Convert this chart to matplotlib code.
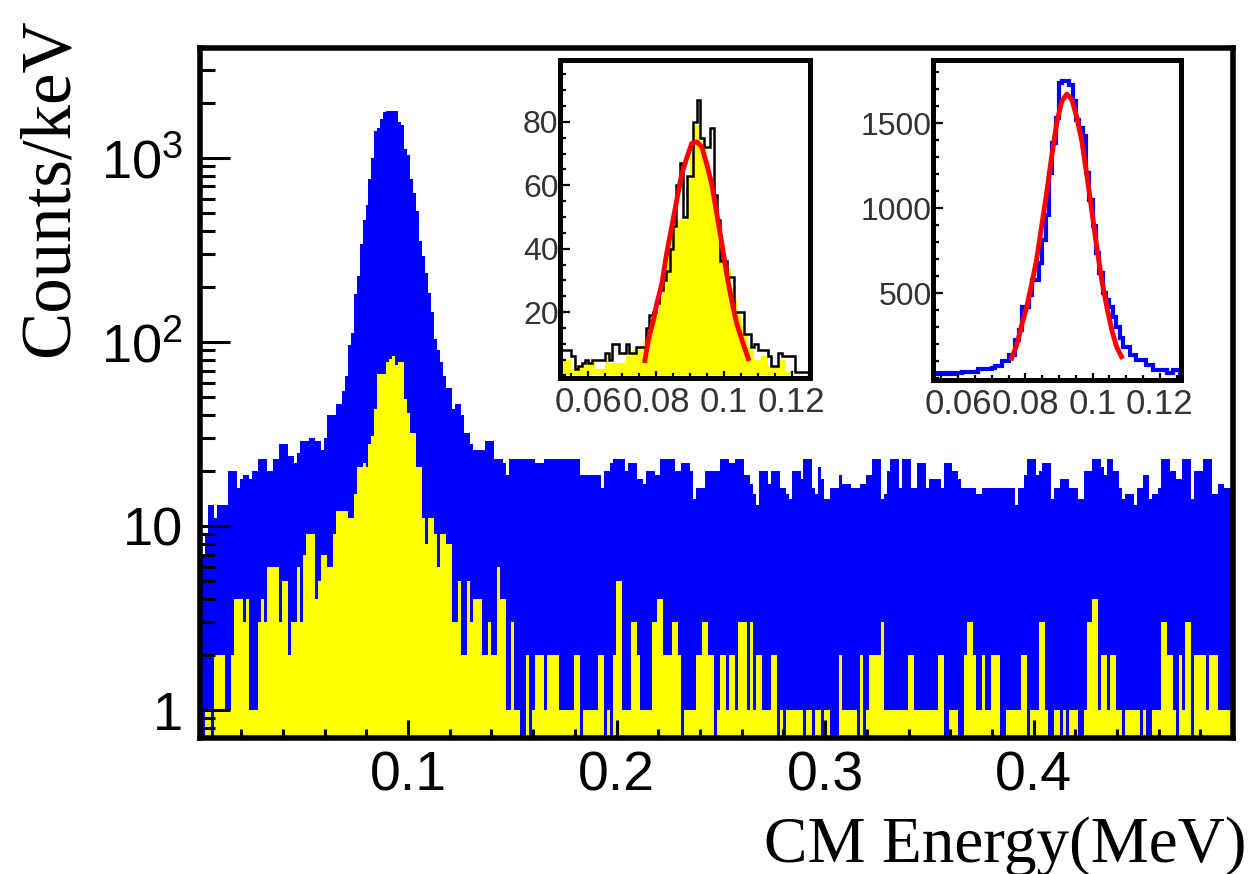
import numpy as np
import matplotlib
matplotlib.use("Agg")
from matplotlib import pyplot as plt
from matplotlib.ticker import FixedLocator, FixedFormatter, MultipleLocator, LogLocator, NullFormatter

plt.rcParams['font.family'] = ['Liberation Sans', 'DejaVu Sans']
plt.rcParams['mathtext.fontset'] = 'custom'
plt.rcParams['mathtext.rm'] = 'Liberation Sans'

# main histogram, counts per bin (346 bins, 0.001-0.4954 MeV)
main_blue = [
    7, 9, 13, 13, 11, 13, 13, 13, 13, 20,
    20, 20, 16, 18, 19, 19, 18, 20, 20, 23,
    23, 23, 20, 20, 23, 23, 28, 28, 28, 24,
    24, 22, 25, 29, 29, 29, 30, 30, 29, 29,
    26, 30, 40, 40, 40, 46, 46, 54, 65, 96,
    112, 182, 229, 341, 460, 556, 769, 996, 1402, 1456,
    1628, 1780, 1800, 1800, 1810, 1790, 1570, 1510, 1114, 1038,
    769, 648, 515, 355, 294, 237, 184, 146, 104, 90,
    78, 65, 56, 56, 43, 46, 46, 40, 32, 32,
    28, 26, 26, 26, 26, 29, 29, 29, 23, 23,
    23, 22, 19, 23, 23, 23, 23, 23, 23, 23,
    23, 23, 22, 22, 22, 23, 23, 23, 23, 23,
    23, 23, 23, 23, 23, 23, 23, 19, 19, 19,
    19, 19, 19, 19, 16, 20, 20, 22, 23, 23,
    23, 23, 20, 22, 22, 22, 18, 18, 17, 20,
    20, 20, 19, 19, 23, 23, 23, 23, 23, 20,
    20, 22, 22, 22, 20, 14, 16, 16, 16, 20,
    20, 20, 20, 20, 23, 23, 23, 22, 22, 23,
    23, 23, 19, 19, 17, 15, 13, 20, 20, 20,
    17, 20, 20, 20, 16, 16, 15, 14, 20, 20,
    20, 18, 23, 23, 23, 16, 15, 21, 18, 14,
    14, 16, 16, 16, 19, 17, 17, 17, 16, 16,
    16, 17, 17, 19, 19, 23, 23, 23, 14, 15,
    20, 23, 23, 23, 16, 23, 23, 23, 16, 16,
    22, 22, 22, 16, 18, 18, 18, 18, 16, 22,
    22, 22, 20, 20, 18, 16, 16, 16, 16, 16,
    15, 15, 16, 16, 16, 16, 16, 16, 16, 16,
    16, 16, 16, 13, 16, 16, 19, 23, 23, 23,
    19, 20, 22, 22, 22, 14, 16, 16, 18, 18,
    18, 16, 16, 16, 14, 14, 20, 20, 20, 23,
    23, 23, 21, 19, 23, 23, 20, 20, 16, 14,
    15, 15, 15, 13, 16, 16, 19, 19, 14, 15,
    15, 16, 23, 23, 23, 20, 20, 18, 18, 23,
    23, 23, 14, 20, 20, 20, 23, 23, 23, 15,
    15, 17, 17, 16, 16, 16,
]
main_yellow = [
    0, 1, 1, 0, 2, 2, 2, 2, 1, 1,
    2, 4, 4, 4, 3, 4, 1, 1, 1, 3,
    4, 3, 6, 6, 6, 6, 3, 5, 5, 2,
    3, 3, 6, 3, 7, 9, 9, 9, 4, 5,
    7, 7, 6, 6, 9, 12, 12, 12, 12, 11,
    11, 15, 21, 21, 22, 21, 28, 31, 43, 67,
    67, 67, 78, 81, 84, 75, 78, 78, 49, 41,
    32, 32, 21, 21, 11, 8, 11, 11, 9, 6,
    9, 9, 8, 8, 3, 3, 5, 2, 2, 5,
    3, 4, 4, 4, 2, 2, 3, 2, 2, 6,
    4, 4, 1, 1, 3, 1, 1, 0, 0, 2,
    0, 1, 2, 2, 2, 1, 2, 2, 2, 2,
    1, 1, 1, 1, 1, 2, 2, 0, 1, 1,
    1, 1, 1, 2, 2, 0, 1, 0, 2, 5,
    5, 1, 1, 1, 3, 3, 2, 1, 1, 1,
    1, 3, 3, 4, 4, 2, 2, 2, 3, 3,
    2, 0, 1, 1, 1, 1, 2, 2, 3, 3,
    2, 2, 0, 1, 2, 2, 1, 2, 2, 1,
    3, 3, 3, 1, 3, 1, 2, 2, 1, 1,
    1, 2, 2, 0, 1, 0, 1, 1, 1, 1,
    1, 1, 0, 1, 1, 0, 1, 1, 0, 1,
    1, 0, 0, 0, 2, 1, 1, 1, 1, 1,
    0, 2, 0, 1, 2, 2, 2, 2, 3, 1,
    1, 1, 1, 1, 1, 1, 1, 2, 2, 1,
    1, 1, 1, 1, 1, 1, 1, 2, 2, 0,
    0, 1, 1, 1, 0, 0, 2, 3, 3, 2,
    1, 1, 2, 1, 1, 2, 2, 2, 0, 0,
    1, 1, 1, 1, 1, 2, 2, 0, 1, 1,
    1, 3, 3, 1, 0, 0, 1, 1, 0, 1,
    0, 1, 1, 1, 0, 0, 1, 3, 3, 4,
    4, 1, 2, 2, 1, 2, 2, 1, 1, 0,
    1, 1, 1, 1, 1, 0, 1, 0, 0, 1,
    1, 1, 3, 3, 2, 2, 1, 0, 2, 1,
    3, 3, 0, 2, 2, 2, 2, 1, 2, 2,
    2, 1, 1, 1, 1, 1,
]

# inset histograms, 1 keV bins from 0.052 to 0.126 MeV
ins1_yellow = [
    5, 5, 5, 2, 3, 3, 3, 4, 4, 4,
    2, 2, 2, 6, 4, 4, 4, 4, 4, 6,
    6, 8, 8, 8, 11, 15, 15, 18, 20, 25,
    32, 38, 45, 48, 49, 49, 49, 62, 69, 79,
    79, 74, 71, 67, 60, 55, 49, 42, 37, 34,
    28, 24, 19, 16, 13, 9, 8, 5, 5, 6,
    6, 3, 3, 3, 5, 5, 1, 1, 0, 0,
    0, 0, 0, 0,
]
ins1_black = [
    8, 8, 8, 6, 2, 3, 4, 5, 4, 5,
    5, 5, 5, 7, 5, 10, 10, 7, 7, 10,
    7, 7, 9, 9, 9, 15, 19, 20, 23, 27,
    30, 33, 40, 47, 60, 67, 50, 63, 63, 80,
    87, 75, 72, 72, 78, 57, 49, 36, 36, 31,
    31, 20, 20, 20, 13, 13, 9, 10, 8, 8,
    8, 6, 3, 3, 7, 6, 6, 6, 6, 1,
    1, 1, 1, 4,
]
ins2_blue = [
    30, 30, 25, 30, 25, 30, 25, 30, 30, 35,
    39, 39, 39, 39, 53, 53, 53, 53, 60, 72,
    72, 104, 104, 137, 137, 225, 284, 421, 421, 490,
    578, 578, 676, 813, 960, 1205, 1382, 1529, 1735, 1745,
    1745, 1725, 1627, 1519, 1470, 1421, 1205, 1049, 892, 735,
    618, 500, 461, 421, 362, 304, 235, 186, 186, 137,
    137, 108, 108, 108, 78, 78, 49, 49, 49, 49,
    29, 29, 49, 49,
]

# fitted curves, points
fit1_x = [0.0767, 0.0777, 0.0792, 0.0802, 0.0817, 0.0831, 0.0846, 0.0861, 0.0876,
          0.0890, 0.0905, 0.0920, 0.0935, 0.0949, 0.0964, 0.0979, 0.0994, 0.1008,
          0.1023, 0.1038, 0.1057, 0.1072]
fit1_y = [4.7, 11.1, 17.4, 22.6, 28.9, 38.4, 46.8, 55.3, 63.7,
          68.4, 73.2, 73.7, 72.1, 66.8, 60.5, 51.1, 41.6, 32.1,
          23.7, 16.3, 10.0, 5.3]
fit2_x = [0.0759, 0.0774, 0.0789, 0.0804, 0.0818, 0.0833, 0.0848, 0.0863, 0.0878,
          0.0893, 0.0908, 0.0923, 0.0938, 0.0952, 0.0967, 0.0982, 0.0997, 0.1012,
          0.1027, 0.1042, 0.1057, 0.1071, 0.1086]
fit2_y = [118, 196, 314, 421, 549, 696, 892, 1088, 1303,
          1500, 1627, 1670, 1637, 1539, 1402, 1205, 990, 774,
          578, 421, 284, 186, 127]

main_xticks = [0.1, 0.2, 0.3, 0.4]
main_xlabels = ['0.1', '0.2', '0.3', '0.4']
main_yticks = [1, 10, 100, 1000]
main_ylabels = ['1', '10', r'$\mathregular{10^{2}}$', r'$\mathregular{10^{3}}$']
ins_xticks = [0.06, 0.08, 0.1, 0.12]
ins_xlabels = ['0.06', '0.08', '0.1', '0.12']

BLUE = '#0000ff'
YELLOW = '#ffff00'
RED = '#ff0000'
serif = ['Liberation Serif', 'DejaVu Serif']

fig = plt.figure(figsize=(12.55, 8.74), dpi=100)

# ---- main plot
ax = fig.add_axes([0.159, 0.1556, 0.8231, 0.7895])
ax.set_yscale('log')
edges = np.linspace(0.001, 0.4954, len(main_blue) + 1)
b = np.array(main_blue, dtype=float)
y = np.array(main_yellow, dtype=float)
ax.stairs(np.where(b > 0, b, 0.1), edges, fill=True, color=BLUE, baseline=0.1, lw=0)
ax.stairs(np.where(y > 0, y, 0.1), edges, fill=True, color=YELLOW, baseline=0.1, lw=0)
ax.set_xlim(0.0, 0.4954)
ax.set_ylim(0.705, 3960)

ax.xaxis.set_major_locator(FixedLocator(main_xticks))
ax.xaxis.set_major_formatter(FixedFormatter(main_xlabels))
ax.xaxis.set_minor_locator(MultipleLocator(0.02))
ax.yaxis.set_major_locator(FixedLocator(main_yticks))
ax.yaxis.set_major_formatter(FixedFormatter(main_ylabels))
ax.yaxis.set_minor_locator(LogLocator(base=10, subs=np.arange(2, 10)))
ax.yaxis.set_minor_formatter(NullFormatter())
ax.tick_params(axis='x', which='major', direction='in', length=13, width=2.2,
               labelsize=40, pad=9, top=False)
ax.tick_params(axis='x', which='minor', direction='in', length=6.5, width=2.2, top=False)
ax.tick_params(axis='y', which='major', direction='in', length=21.6, width=2.2,
               labelsize=39, pad=12, right=False)
ax.tick_params(axis='y', which='minor', direction='in', length=10.8, width=2.2, right=False)
for s in ax.spines.values():
    s.set_linewidth(4)

fig.text(1247 / 1255, 1 - 862 / 874, 'CM Energy(MeV)', ha='right', va='baseline',
         fontsize=47, family=serif)
fig.text(18 / 1255, 1 - 18 / 874, 'Counts/keV', rotation=90, ha='left', va='top',
         fontsize=51, family=serif)

ins_edges = np.linspace(0.052, 0.126, 75)


def style_inset(a, ymajor, yminor):
    a.xaxis.set_major_locator(FixedLocator(ins_xticks))
    a.xaxis.set_major_formatter(FixedFormatter(ins_xlabels))
    a.xaxis.set_minor_locator(MultipleLocator(0.005))
    a.yaxis.set_major_locator(MultipleLocator(ymajor))
    a.yaxis.set_minor_locator(MultipleLocator(yminor))
    a.tick_params(axis='x', which='major', direction='in', length=5, width=1.6,
                  labelsize=25, pad=6, labelcolor='#333333', top=False)
    a.tick_params(axis='x', which='minor', direction='in', length=3.6, width=1.6, top=False)
    a.tick_params(axis='y', which='major', direction='in', length=7.2, width=1.6,
                  labelsize=23, pad=1, labelcolor='#333333', right=False)
    a.tick_params(axis='y', which='minor', direction='in', length=4.3, width=1.6, right=False)
    for s in a.spines.values():
        s.set_linewidth(3.6)


# ---- inset 1: yellow selection with fit
ax1 = fig.add_axes([0.4462, 0.5675, 0.1992, 0.3638])
ax1.set_facecolor('white')
ax1.stairs(ins1_yellow, ins_edges, fill=True, color=YELLOW, lw=0)
ax1.stairs(ins1_black, ins_edges, color='black', lw=1.8)
ax1.plot(fit1_x, fit1_y, color=RED, lw=3.5)
ax1.set_xlim(0.05165, 0.1254)
ax1.set_ylim(-0.8, 99.5)
style_inset(ax1, 20, 5)
ax1.yaxis.set_major_locator(FixedLocator([20, 40, 60, 80]))

# ---- inset 2: all events with fit
ax2 = fig.add_axes([0.7434, 0.5652, 0.1976, 0.3661])
ax2.set_facecolor('white')
ax2.stairs(ins2_blue, ins_edges, color=BLUE, lw=3)
ax2.plot(fit2_x, fit2_y, color=RED, lw=3.5)
ax2.set_xlim(0.05247, 0.12628)
ax2.set_ylim(-10, 1870)
style_inset(ax2, 500, 100)
ax2.yaxis.set_major_locator(FixedLocator([500, 1000, 1500]))

fig.savefig('out.png', dpi=100)
